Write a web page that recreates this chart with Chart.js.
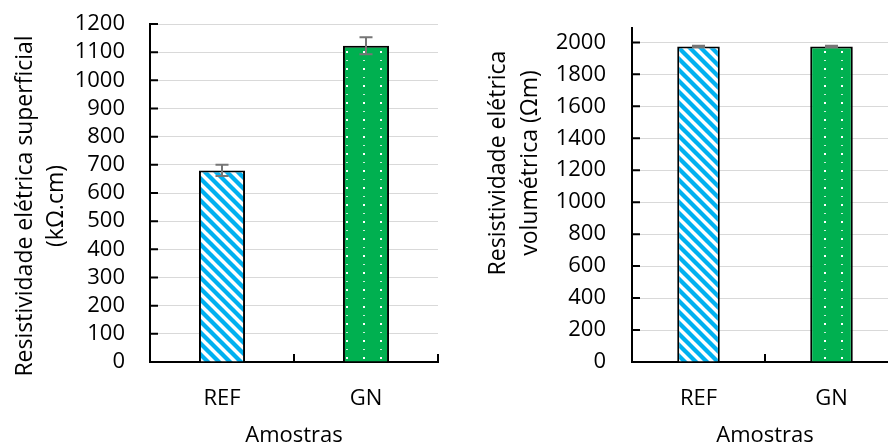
<!DOCTYPE html>
<html><head><meta charset="utf-8">
<script src="https://cdn.jsdelivr.net/npm/chart.js@4.4.1/dist/chart.umd.min.js"></script>
<style>
html,body{margin:0;padding:0;background:#fff;overflow:hidden;width:888px;height:445px;position:relative;}
#c1{position:absolute;left:0;top:0;}
#c2{position:absolute;left:444px;top:0;}
</style></head><body>
<canvas id="c1" width="444" height="445"></canvas>
<canvas id="c2" width="460" height="445"></canvas>
<script>
// ---- data ----
const categories = ['REF', 'GN'];
const surfaceValues = [680, 1123];
const surfaceErrors = [20, 30];
const volumeValues = [1975, 1975];
const volumeErrors = [4, 4];
const surfaceTitle = ['Resistividade elétrica superficial', '(kΩ.cm)'];
const volumeTitle = ['Resistividade elétrica', 'volumétrica (Ωm)'];
const xTitle = 'Amostras';

const FONT = "'Open Sans', sans-serif";

function stripePattern(ctx) {
  const t = document.createElement('canvas'); t.width = 11; t.height = 11;
  const g = t.getContext('2d');
  g.fillStyle = '#fff'; g.fillRect(0, 0, 11, 11);
  g.strokeStyle = '#00B0F0'; g.lineWidth = 4.3;
  for (const o of [-11, 0, 11]) { g.beginPath(); g.moveTo(o - 3, -3); g.lineTo(o + 14, 14); g.stroke(); }
  return ctx.createPattern(t, 'repeat');
}
function dotPattern(ctx) {
  const t = document.createElement('canvas'); t.width = 17; t.height = 17;
  const g = t.getContext('2d');
  g.fillStyle = '#00B050'; g.fillRect(0, 0, 17, 17);
  g.fillStyle = '#fff';
  g.fillRect(6, 0, 2, 2);
  g.fillStyle = 'rgba(255,255,255,0.8)';
  g.fillRect(6, 9, 2, 1);
  return ctx.createPattern(t, 'repeat');
}

const errorBars = {
  id: 'errorBars',
  afterDatasetsDraw(chart, args, opts) {
    const meta = chart.getDatasetMeta(0), y = chart.scales.y, ctx = chart.ctx;
    ctx.save(); ctx.strokeStyle = '#767676'; ctx.lineWidth = 2;
    meta.data.forEach((bar, i) => {
      const v = chart.data.datasets[0].data[i], e = opts.errors[i];
      const x = bar.x, y1 = y.getPixelForValue(v + e), y2 = y.getPixelForValue(v - e);
      ctx.beginPath();
      ctx.moveTo(x, y1); ctx.lineTo(x, y2);
      ctx.moveTo(x - 6.5, y1); ctx.lineTo(x + 6.5, y1);
      ctx.moveTo(x - 6.5, y2); ctx.lineTo(x + 6.5, y2);
      ctx.stroke();
    });
    ctx.restore();
  }
};

const innerTicks = {
  id: 'innerTicks',
  afterDraw(chart) {
    const ctx = chart.ctx, xs = chart.scales.x, ys = chart.scales.y;
    ctx.save(); ctx.strokeStyle = '#000'; ctx.lineWidth = 2;
    ctx.beginPath();
    ys.ticks.forEach((t, i) => {
      const p = ys.getPixelForTick(i);
      ctx.moveTo(ys.right, p); ctx.lineTo(ys.right + 8, p);
    });
    const n = xs.ticks.length;
    for (let i = 1; i <= n; i++) {
      const p = i < n ? (xs.getPixelForTick(i - 1) + xs.getPixelForTick(i)) / 2 : xs.right;
      ctx.moveTo(p, xs.top); ctx.lineTo(p, xs.top - 8);
    }
    ctx.stroke();
    ctx.restore();
  }
};

const yTitle = {
  id: 'yTitle',
  afterDraw(chart, args, opts) {
    const ctx = chart.ctx;
    ctx.save(); ctx.font = opts.font; ctx.fillStyle = '#000';
    ctx.textAlign = 'center'; ctx.textBaseline = 'alphabetic';
    opts.lines.forEach((t, i) => {
      ctx.save(); ctx.translate(opts.xs[i], opts.cy); ctx.rotate(-Math.PI / 2);
      ctx.fillText(t, 0, 0); ctx.restore();
    });
    ctx.restore();
  }
};

function makeChart(id, values, errors, titleLines, cfg) {
  const canvas = document.getElementById(id);
  const ctx = canvas.getContext('2d');
  return new Chart(ctx, {
    type: 'bar',
    data: {
      labels: categories,
      datasets: [{
        data: values,
        backgroundColor: [stripePattern(ctx), dotPattern(ctx)],
        borderColor: '#000', borderWidth: 2,
        categoryPercentage: 1, barPercentage: 0.32
      }]
    },
    options: {
      responsive: false, animation: false,
      layout: { padding: { top: cfg.top, right: cfg.right, left: 0, bottom: 0 } },
      plugins: {
        legend: { display: false }, tooltip: { enabled: false },
        errorBars: { errors: errors },
        yTitle: { lines: titleLines, xs: cfg.titleXs, cy: cfg.titleCy, font: "23px " + FONT }
      },
      scales: {
        x: {
          grid: { display: false, drawTicks: false },
          border: { display: true, color: '#000', width: 2 },
          ticks: { color: '#000', font: { family: FONT, size: 22 }, padding: 24 },
          title: { display: true, text: xTitle, color: '#000', font: { family: FONT, size: 22, lineHeight: 0.8 }, padding: { top: 0, bottom: 0 } },
          afterFit(s) { s.height = 83; s.paddingLeft = 0; s.paddingRight = 0; }
        },
        y: {
          min: 0, max: cfg.max,
          grid: { color: '#d9d9d9', lineWidth: 1, drawTicks: false },
          border: { display: true, color: '#000', width: 2 },
          ticks: { stepSize: cfg.step, includeBounds: false, autoSkip: false, color: '#000', font: { family: FONT, size: 22 }, padding: cfg.tickPad, callback: v => String(v) },
          afterBuildTicks(s) { s.ticks = s.ticks.filter(t => t.value % cfg.step === 0); },
          afterFit(s) { s.width = cfg.yWidth; s.paddingTop = 0; s.paddingBottom = 0; }
        }
      }
    },
    plugins: [errorBars, innerTicks, yTitle]
  });
}

makeChart('c1', surfaceValues, surfaceErrors, surfaceTitle,
  { top: 24, right: 6, max: 1200, step: 100, tickPad: 25, yWidth: 150, titleXs: [32, 63], titleCy: 206 });
makeChart('c2', volumeValues, volumeErrors, volumeTitle,
  { top: 28, right: 6, max: 2090, step: 200, tickPad: 26, yWidth: 188, titleXs: [61, 93], titleCy: 163 });
</script>
</body></html>
